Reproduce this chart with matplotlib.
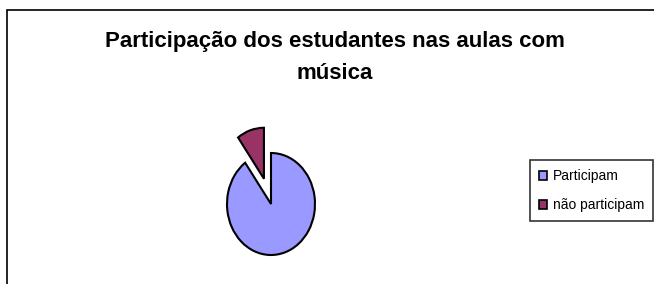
import matplotlib.pyplot as plt
from matplotlib.patches import Rectangle

plt.rcParams['font.family'] = ['Liberation Sans', 'DejaVu Sans']

title_lines = ['Participação dos estudantes nas aulas com', 'música']
labels = ['Participam', 'não participam']
values = [90, 10]
colors = ['#9999FF', '#993366']
explode = [0, 0.52]

W, H = 654, 284
fig = plt.figure(figsize=(W / 100, H / 100), dpi=100)

# chart border (cut off on right and bottom like the original)
fig.patches.append(Rectangle((7 / W, -0.1), 1.2, 1.1 - 10 / H, transform=fig.transFigure,
                             fill=False, edgecolor='black', linewidth=1.2))

# title, two lines
for line, base in zip(title_lines, [47, 79]):
    fig.text(335 / W, 1 - base / H, line, ha='center', va='baseline', fontsize=16,
             fontweight='bold')

# pie axes, stretched vertically
cx, cy, rx, ry, half = 271, 204, 44, 51, 100
ax = fig.add_axes([(cx - half) / W, (H - cy - half) / H, 2 * half / W, 2 * half / H])
wedges, _ = ax.pie(values, colors=colors, explode=explode, startangle=90, counterclock=False,
                   wedgeprops=dict(edgecolor='black', linewidth=1.5))
ax.set_aspect('auto')
ax.set_xlim(-half / rx, half / rx)
ax.set_ylim(-half / ry, half / ry)
ax.axis('off')

leg = fig.legend(wedges, labels, loc='upper left', bbox_to_anchor=(530 / W, 1 - 160 / H),
                 fontsize=10, frameon=True, fancybox=False, edgecolor='black',
                 handlelength=0.6, handleheight=0.6, handletextpad=0.4,
                 labelspacing=1.1, borderpad=0.65, borderaxespad=0)
leg.get_frame().set_linewidth(1.2)
for h in leg.legend_handles:
    h.set_linewidth(1.2)

fig.savefig('out.png', dpi=100)
